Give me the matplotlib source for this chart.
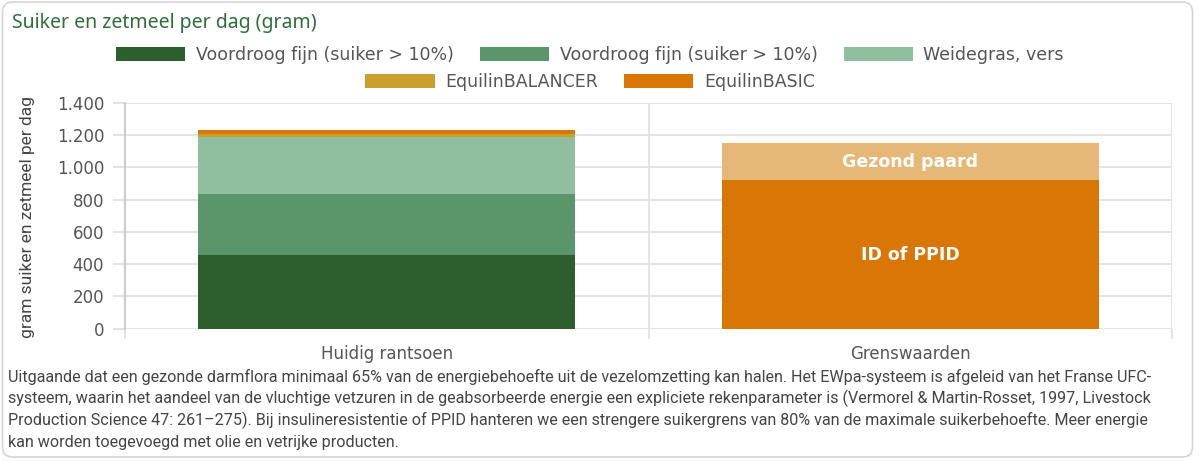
import matplotlib.pyplot as plt
from matplotlib.patches import FancyBboxPatch
from matplotlib.ticker import FuncFormatter, MultipleLocator
from matplotlib.transforms import IdentityTransform

categories = ['Huidig rantsoen', 'Grenswaarden']

feed_names = ['Voordroog fijn (suiker > 10%)', 'Voordroog fijn (suiker > 10%)',
              'Weidegras, vers', 'EquilinBALANCER', 'EquilinBASIC']
feed_grams = [455, 380, 353, 22, 23]
feed_colors = ['#2d5e2e', '#5a9669', '#8fbf9e', '#c9a02b', '#d97706']

limit_names = ['ID of PPID', 'Gezond paard']
limit_grams = [920, 230]
limit_colors = ['#d97706', '#e6b877']

note_lines = [
    'Uitgaande dat een gezonde darmflora minimaal 65% van de energiebehoefte uit de vezelomzetting kan halen. Het EWpa-systeem is afgeleid van het Franse UFC-',
    'systeem, waarin het aandeel van de vluchtige vetzuren in de geabsorbeerde energie een expliciete rekenparameter is (Vermorel & Martin-Rosset, 1997, Livestock',
    'Production Science 47: 261\u2013275). Bij insulineresistentie of PPID hanteren we een strengere suikergrens van 80% van de maximale suikerbehoefte. Meer energie',
    'kan worden toegevoegd met olie en vetrijke producten.',
]

W, H = 1200, 461
fig = plt.figure(figsize=(W / 100, H / 100), dpi=100)
ax = fig.add_axes([125 / W, 132.3 / H, 1047 / W, 225.7 / H])

grid_c = '#e2e2e2'
text_c = '#555555'
bar_w = 0.72

# stacked bars: current ration in the first category
handles = []
bottom = 0
for name, val, col in zip(feed_names, feed_grams, feed_colors):
    b = ax.bar(0, val, bar_w, bottom=bottom, color=col, label=name, zorder=2)
    handles.append(b)
    bottom += val

# limits in the second category
bottom = 0
for name, val, col in zip(limit_names, limit_grams, limit_colors):
    ax.bar(1, val, bar_w, bottom=bottom, color=col, zorder=2)
    ax.text(1, bottom + val / 2, name, ha='center', va='center', color='white',
            fontsize=12.5, fontweight='bold', family='DejaVu Sans', zorder=3)
    bottom += val

ax.set_xlim(-0.5, 1.5)
ax.set_ylim(0, 1400)
ax.yaxis.set_major_locator(MultipleLocator(200))
ax.yaxis.set_major_formatter(FuncFormatter(lambda v, p: f'{int(v):,}'.replace(',', '.')))
ax.set_xticks([0, 1])
ax.set_xticklabels(categories)
ax.set_xticks([-0.5, 0.5, 1.5], minor=True)

ax.set_axisbelow(True)
ax.grid(axis='y', color=grid_c, lw=1.3)
ax.grid(axis='x', which='minor', color=grid_c, lw=1.3)
ax.tick_params(axis='y', length=9, color=grid_c, width=1.3, pad=6,
               labelsize=12, labelcolor=text_c)
ax.tick_params(axis='x', which='major', length=0, pad=12, labelsize=12, labelcolor=text_c)
ax.tick_params(axis='x', which='minor', length=7, color=grid_c, width=1.3)
for lab in ax.get_xticklabels() + ax.get_yticklabels():
    lab.set_family('DejaVu Sans')

for s in ['top', 'right', 'bottom']:
    ax.spines[s].set_visible(False)
ax.spines['left'].set_color('#cccccc')
ax.spines['left'].set_linewidth(1.5)

# legend in two centred rows
leg_kw = dict(frameon=False, labelcolor=text_c, handlelength=4.0,
              handleheight=0.85, handletextpad=0.6, columnspacing=1.5,
              borderpad=0, borderaxespad=0, loc='center',
              prop={'family': 'DejaVu Sans', 'size': 12.5})
fig.legend(handles[:3], feed_names[:3], ncol=3,
           bbox_to_anchor=(590 / W, 1 - 55 / H), **leg_kw)
fig.legend(handles[3:], feed_names[3:], ncol=2,
           bbox_to_anchor=(590 / W, 1 - 82 / H), **leg_kw)

fig.text(12 / W, 1 - 27.7 / H, 'Suiker en zetmeel per dag (gram)', fontsize=14,
         color='#2f6e3b', family='Noto Sans', va='baseline')
fig.text(28 / W, 1 - 216.5 / H, 'gram suiker en zetmeel per dag', rotation=90,
         fontsize=12.5, color='#444444', family='Roboto', ha='center', va='center')

for i, line in enumerate(note_lines):
    fig.text(8 / W, 1 - (377 + 21.8 * i) / H, line, fontsize=11.6, color='#444444',
             family='Roboto', va='center')

border = FancyBboxPatch((2.5, 4), 1190, 455, boxstyle='round,pad=0,rounding_size=10',
                        transform=IdentityTransform(), fill=False, ec='#d5d5d5', lw=1.2)
fig.patches.append(border)

fig.savefig('out.png', dpi=100)
